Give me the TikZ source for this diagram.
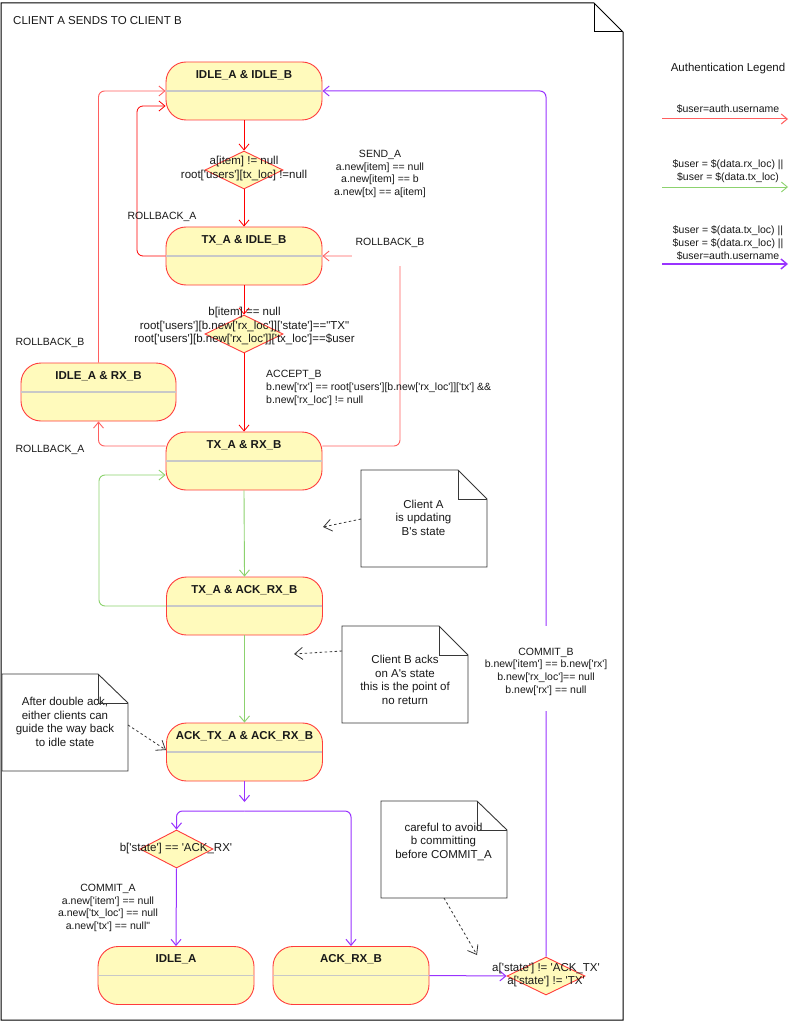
\documentclass[tikz,border=0pt]{standalone}
\usepackage{fontspec}
\setmainfont{Liberation Sans}[Ligatures=TeXOff]
\usetikzlibrary{arrows.meta,shapes.geometric,calc}
\definecolor{stfill}{RGB}{255,250,188}
\definecolor{stdraw}{RGB}{255,60,60}
\definecolor{lred}{RGB}{255,95,95}
\definecolor{lgreen}{RGB}{140,210,110}
\definecolor{lpurple}{RGB}{153,51,255}
\definecolor{notec}{RGB}{55,55,55}
\definecolor{divc}{RGB}{200,200,200}
\definecolor{txt}{RGB}{25,25,25}
\begin{document}
\begin{tikzpicture}[x=1pt,y=-1pt,
  state/.style={draw=stdraw, fill=stfill, rounded corners=20pt, minimum width=156pt, minimum height=58pt, inner sep=0pt, line width=0.9pt},
  sttitle/.style={font=\fontsize{11.5}{14}\selectfont\bfseries, text=txt, inner sep=0pt},
  divider/.style={draw=divc, line width=1.6pt, shorten <=0.6pt, shorten >=0.6pt},
  dec/.style={diamond, draw=stdraw, fill=stfill, minimum width=78pt, minimum height=38pt, inner sep=0pt, line width=0.9pt},
  dtext/.style={font=\fontsize{11.5}{13.5}\selectfont, align=center, text=txt, inner sep=0pt},
  elabel/.style={font=\fontsize{10.5}{12.7}\selectfont, align=center, text=txt, inner sep=0pt},
  ntext/.style={font=\fontsize{11.5}{13.5}\selectfont, align=center, text=txt, inner sep=0pt},
  tipv/.style={-{Straight Barb[length=6pt,width=10pt]}},
  redge/.style={tipv, draw=red, line width=0.8pt, rounded corners=6pt},
  ledge/.style={tipv, draw=lred, line width=0.9pt, rounded corners=6pt},
  gedge/.style={tipv, draw=lgreen, line width=0.9pt, rounded corners=6pt},
  pedge/.style={tipv, draw=lpurple, line width=1pt, rounded corners=6pt},
  notebox/.style={draw=notec, line width=0.9pt, line join=miter},
  dasharrow/.style={-{Straight Barb[length=8pt,width=12pt]}, draw=notec, line width=0.8pt, dash pattern=on 2.5pt off 2.5pt}
]
\useasboundingbox (0,0) rectangle (800,1024);
\fill[white] (0,0) rectangle (800,1024);

% outer frame (note shape)
\draw[line width=1pt, line join=miter] (1,3) -- (594,3) -- (623,32) -- (623,1020) -- (1,1020) -- cycle;
\draw[line width=1pt] (594,3) -- (594,32) -- (623,32);
\node[anchor=west, font=\fontsize{11.5}{13}\selectfont, text=txt, inner sep=0pt] (title) at (13,21) {CLIENT A SENDS TO CLIENT B};

% states
\node[state] (ii) at (244,91) {};
\node[state] (ti) at (244,256) {};
\node[state, minimum width=155pt] (ir) at (98.5,392) {};
\node[state] (tr) at (244,461) {};
\node[state] (ta) at (244.5,606) {};
\node[state] (aa) at (244.5,752) {};
\node[state] (ia) at (176,975.5) {};
\node[state] (ar) at (351,975.5) {};
\foreach \s in {ii,ti,ir,tr,ta,aa,ia,ar} { \draw[divider] (\s.west) -- (\s.east); }
\node[sttitle] (iiT) at ([yshift=16pt]ii.center) {IDLE\_A \& IDLE\_B};
\node[sttitle] (tiT) at ([yshift=16pt]ti.center) {TX\_A \& IDLE\_B};
\node[sttitle] (irT) at ([yshift=16pt]ir.center) {IDLE\_A \& RX\_B};
\node[sttitle] (trT) at ([yshift=16pt]tr.center) {TX\_A \& RX\_B};
\node[sttitle] (taT) at ([yshift=16pt]ta.center) {TX\_A \& ACK\_RX\_B};
\node[sttitle] (aaT) at ([yshift=16pt]aa.center) {ACK\_TX\_A \& ACK\_RX\_B};
\node[sttitle] (iaT) at ([yshift=16pt]ia.center) {IDLE\_A};
\node[sttitle] (arT) at ([yshift=16pt]ar.center) {ACK\_RX\_B};

% decisions
\node[dec] (d1) at (244,170) {};
\node[dec] (d2) at (244,334) {};
\node[dec, minimum width=73pt] (d3) at (176.5,849) {};
\node[dec] (d4) at (546,976) {};

% red edges
\draw[redge] (ii.south) -- (d1.north);
\draw[redge] (d1.south) -- (ti.north);
\coordinate (rbA) at (137,106);
\draw[redge] (ti.west) -| (rbA) -- (ii.west |- rbA);
\draw[redge] (ti.south) -- (d2.north);
\draw[redge] (d2.south) -- (tr.north);
\draw[ledge] (ir.north) |- (ii.west);
\draw[ledge] ([yshift=15pt]tr.west) -| (ir.south);
\coordinate (rbB) at (400,256);
\draw[ledge] ([yshift=15pt]tr.east) -| (rbB) -- (ti.east);
\fill[white] (352,232) rectangle (412,265.5);

% green edges
\draw[gedge] (tr.south) -- (ta.north);
\coordinate (gB) at (99,475);
\draw[gedge] (ta.west) -| (gB) -- (tr.west |- gB);
\draw[gedge] (ta.south) -- (aa.north);

% purple edges
\coordinate (pj) at (244.5,802);
\coordinate (pf) at (244.5,811);
\draw[pedge] (aa.south) -- (pj);
\draw[pedge] (pf) -| (d3.north);
\draw[pedge] (pf) -| (ar.north);
\draw[pedge] (d3.south) -- (ia.north);
\draw[pedge] (ar.east) -- (d4.west);
\draw[pedge] (d4.north) |- (ii.east);
\fill[white] (538,626) rectangle (554,711);

% edge labels
\node[elabel] (sendA) at (380,174) {SEND\_A\\a.new[item] == null\\a.new[item] == b\\a.new[tx] == a[item]};
\node[elabel] (lrbA1) at (162,217) {ROLLBACK\_A};
\node[elabel] (lrbB1) at (390,243) {ROLLBACK\_B};
\node[elabel] (lrbB2) at (50,343) {ROLLBACK\_B};
\node[elabel] (lrbA2) at (50,450) {ROLLBACK\_A};
\node[elabel, anchor=west, align=left] (accB) at (266,388) {ACCEPT\_B\\b.new['rx'] == root['users'][b.new['rx\_loc']]['tx'] \&\&\\b.new['rx\_loc'] != null};
\node[elabel] (comB) at (546,671.5) {COMMIT\_B\\b.new['item'] == b.new['rx']\\b.new['rx\_loc']== null\\b.new['rx'] == null};
\node[elabel] (comA) at (108,908) {COMMIT\_A\\a.new['item'] == null\\a.new['tx\_loc'] == null\\a.new['tx'] == null"};

% decision texts
\node[dtext] (d1T) at (244,168.5) {a[item] != null\\root['users'][tx\_loc] !=null};
\node[dtext] (d2T) at (244.5,326.5) {b[item] == null\\root['users'][b.new['rx\_loc']]['state']=="TX"\\root['users'][b.new['rx\_loc']]['tx\_loc']==\$user};
\node[dtext] (d3T) at (176,849) {b['state'] == 'ACK\_RX'};
\node[dtext] (d4T) at (546,975) {a['state'] != 'ACK\_TX'\\a['state'] != 'TX'};

% notes
\draw[notebox, fill=white] (361,470) -- (458,470) -- (487,499) -- (487,567) -- (361,567) -- cycle;
\draw[notebox] (458,470) -- (458,499) -- (487,499);
\node[ntext] (n1) at (423.5,517.5) {Client A\\is updating\\B's state};
\coordinate (n1a) at (361,519);
\coordinate (n1b) at (323,527);
\draw[dasharrow] (n1a) -- (n1b);

\draw[notebox, fill=white] (342,626) -- (439,626) -- (468,655) -- (468,723) -- (342,723) -- cycle;
\draw[notebox] (439,626) -- (439,655) -- (468,655);
\node[ntext] (n2) at (405,680) {Client B acks\\on A's state\\this is the point of\\no return};
\coordinate (n2a) at (342,651);
\coordinate (n2b) at (294,654);
\draw[dasharrow] (n2a) -- (n2b);

\draw[notebox, fill=white] (2,674) -- (98,674) -- (128,703) -- (128,771) -- (2,771) -- cycle;
\node[ntext] (n3) at (65,722) {After double ack,\\either clients can\\guide the way back\\to idle state};
\draw[notebox] (98,674) -- (98,703) -- (128,703);
\coordinate (n3a) at (128,725);
\coordinate (n3b) at (166,750);
\draw[dasharrow] (n3a) -- (n3b);

\draw[notebox, fill=white] (381,801) -- (477,801) -- (507,830) -- (507,898) -- (381,898) -- cycle;
\node[ntext] (n4) at (443.5,841.5) {careful to avoid\\b committing\\before COMMIT\_A};
\draw[notebox] (477,801) -- (477,830) -- (507,830);
\coordinate (n4a) at (444,898);
\coordinate (n4b) at (477,955);
\draw[dasharrow] (n4a) -- (n4b);

% legend
\node[font=\fontsize{11.5}{13}\selectfont, text=txt, inner sep=0pt] (legT) at (728,69) {Authentication Legend};
\node[elabel] (leg1) at (728,109) {\$user=auth.username};
\coordinate (l1a) at (662,119); \coordinate (l1b) at (788,119);
\draw[redge, draw=lred, line width=1pt] (l1a) -- (l1b);
\node[elabel] (leg2) at (728,171) {\$user = \$(data.rx\_loc) ||\\\$user = \$(data.tx\_loc)};
\coordinate (l2a) at (662,187); \coordinate (l2b) at (788,187);
\draw[gedge] (l2a) -- (l2b);
\node[elabel] (leg3) at (728,243) {\$user = \$(data.tx\_loc) ||\\\$user = \$(data.rx\_loc) ||\\\$user=auth.username};
\coordinate (l3a) at (662,264); \coordinate (l3b) at (788,264);
\draw[pedge, line width=1.4pt] (l3a) -- (l3b);
\end{tikzpicture}
\end{document}
